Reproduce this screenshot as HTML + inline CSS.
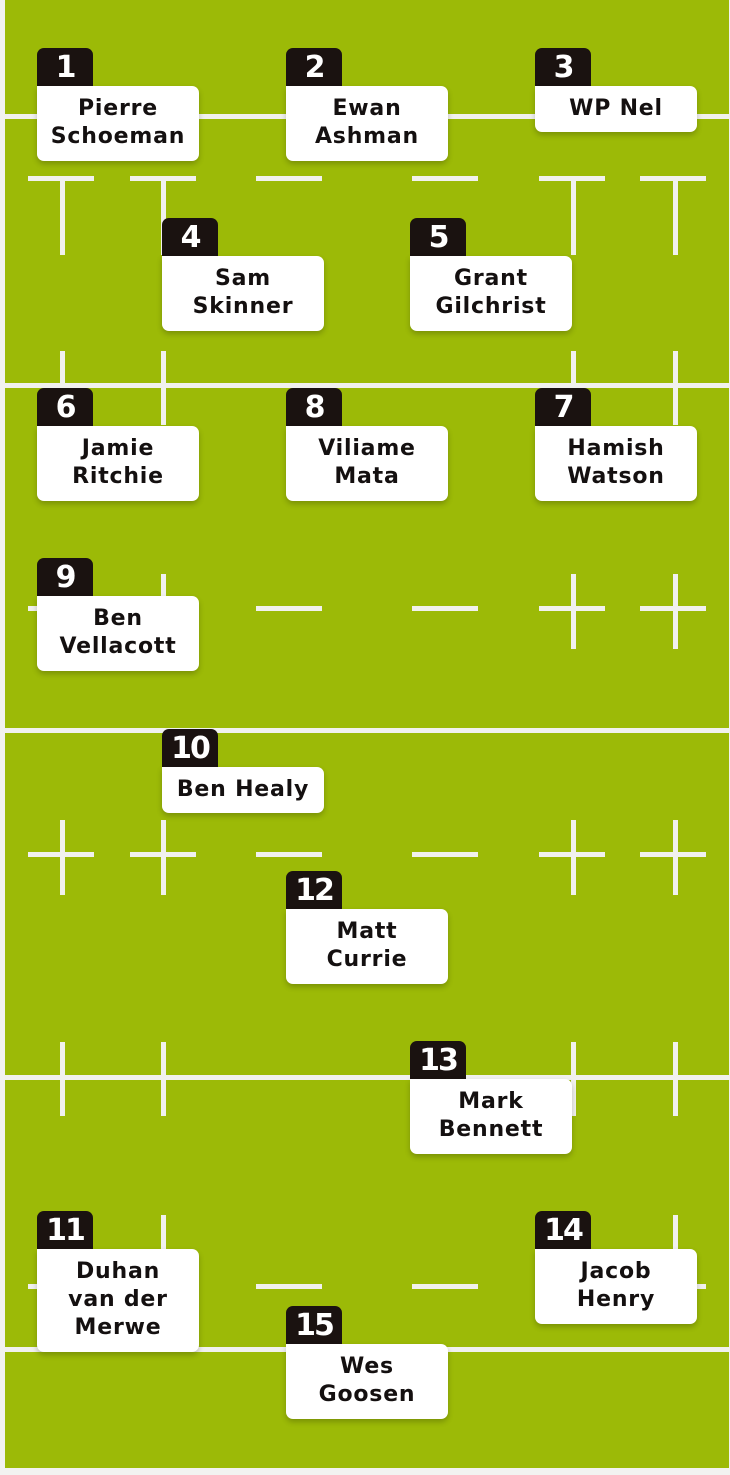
<!DOCTYPE html>
<html><head><meta charset="utf-8"><style>
*{margin:0;padding:0;box-sizing:border-box}
body{width:730px;height:1475px;background:#f2f2f0;position:relative;overflow:hidden;font-family:"DejaVu Sans","Liberation Sans",sans-serif}
.field{position:absolute;left:5px;top:0;width:724px;height:1468px;background:#9cba07}
.l{position:absolute;background:#f1f1ee}
.b{position:absolute;width:56px;height:40px;background:#1a1210;color:#fff;border-radius:7px 7px 0 0;font-weight:bold;font-size:30px;text-align:center;line-height:40px;letter-spacing:-2px}
.c{position:absolute;width:162px;background:#fff;border-radius:7px;border-top-left-radius:0;box-shadow:0 3px 6px rgba(0,0,0,.22);font-weight:bold;font-size:22px;line-height:28px;letter-spacing:0.8px;color:#141010;text-align:center;padding-top:9px}
</style></head><body>
<div class="field"></div>
<div class="l" style="left:5px;top:114px;width:724px;height:5px"></div>
<div class="l" style="left:5px;top:383px;width:724px;height:5px"></div>
<div class="l" style="left:5px;top:728px;width:724px;height:5px"></div>
<div class="l" style="left:5px;top:1075px;width:724px;height:5px"></div>
<div class="l" style="left:5px;top:1347px;width:724px;height:5px"></div>
<div class="l" style="left:28px;top:176px;width:66px;height:5px"></div>
<div class="l" style="left:130px;top:176px;width:66px;height:5px"></div>
<div class="l" style="left:256px;top:176px;width:66px;height:5px"></div>
<div class="l" style="left:412px;top:176px;width:66px;height:5px"></div>
<div class="l" style="left:539px;top:176px;width:66px;height:5px"></div>
<div class="l" style="left:640px;top:176px;width:66px;height:5px"></div>
<div class="l" style="left:60px;top:176px;width:5px;height:79px"></div>
<div class="l" style="left:161px;top:176px;width:5px;height:79px"></div>
<div class="l" style="left:571px;top:176px;width:5px;height:79px"></div>
<div class="l" style="left:673px;top:176px;width:5px;height:79px"></div>
<div class="l" style="left:60px;top:351px;width:5px;height:74px"></div>
<div class="l" style="left:161px;top:351px;width:5px;height:74px"></div>
<div class="l" style="left:571px;top:351px;width:5px;height:74px"></div>
<div class="l" style="left:673px;top:351px;width:5px;height:74px"></div>
<div class="l" style="left:28px;top:606px;width:66px;height:5px"></div>
<div class="l" style="left:130px;top:606px;width:66px;height:5px"></div>
<div class="l" style="left:256px;top:606px;width:66px;height:5px"></div>
<div class="l" style="left:412px;top:606px;width:66px;height:5px"></div>
<div class="l" style="left:539px;top:606px;width:66px;height:5px"></div>
<div class="l" style="left:640px;top:606px;width:66px;height:5px"></div>
<div class="l" style="left:60px;top:574px;width:5px;height:75px"></div>
<div class="l" style="left:161px;top:574px;width:5px;height:75px"></div>
<div class="l" style="left:571px;top:574px;width:5px;height:75px"></div>
<div class="l" style="left:673px;top:574px;width:5px;height:75px"></div>
<div class="l" style="left:28px;top:852px;width:66px;height:5px"></div>
<div class="l" style="left:130px;top:852px;width:66px;height:5px"></div>
<div class="l" style="left:256px;top:852px;width:66px;height:5px"></div>
<div class="l" style="left:412px;top:852px;width:66px;height:5px"></div>
<div class="l" style="left:539px;top:852px;width:66px;height:5px"></div>
<div class="l" style="left:640px;top:852px;width:66px;height:5px"></div>
<div class="l" style="left:60px;top:820px;width:5px;height:75px"></div>
<div class="l" style="left:161px;top:820px;width:5px;height:75px"></div>
<div class="l" style="left:571px;top:820px;width:5px;height:75px"></div>
<div class="l" style="left:673px;top:820px;width:5px;height:75px"></div>
<div class="l" style="left:60px;top:1042px;width:5px;height:74px"></div>
<div class="l" style="left:161px;top:1042px;width:5px;height:74px"></div>
<div class="l" style="left:571px;top:1042px;width:5px;height:74px"></div>
<div class="l" style="left:673px;top:1042px;width:5px;height:74px"></div>
<div class="l" style="left:28px;top:1284px;width:66px;height:5px"></div>
<div class="l" style="left:130px;top:1284px;width:66px;height:5px"></div>
<div class="l" style="left:256px;top:1284px;width:66px;height:5px"></div>
<div class="l" style="left:412px;top:1284px;width:66px;height:5px"></div>
<div class="l" style="left:539px;top:1284px;width:66px;height:5px"></div>
<div class="l" style="left:640px;top:1284px;width:66px;height:5px"></div>
<div class="l" style="left:60px;top:1215px;width:5px;height:74px"></div>
<div class="l" style="left:161px;top:1215px;width:5px;height:74px"></div>
<div class="l" style="left:571px;top:1215px;width:5px;height:74px"></div>
<div class="l" style="left:673px;top:1215px;width:5px;height:74px"></div>

<div class="b" style="left:37px;top:48px">1</div><div class="c" style="left:37px;top:86px;height:75px">Pierre<br>Schoeman</div>
<div class="b" style="left:286px;top:48px">2</div><div class="c" style="left:286px;top:86px;height:75px">Ewan<br>Ashman</div>
<div class="b" style="left:535px;top:48px">3</div><div class="c" style="left:535px;top:86px;height:46px">WP Nel</div>
<div class="b" style="left:162px;top:218px">4</div><div class="c" style="left:162px;top:256px;height:75px">Sam<br>Skinner</div>
<div class="b" style="left:410px;top:218px">5</div><div class="c" style="left:410px;top:256px;height:75px">Grant<br>Gilchrist</div>
<div class="b" style="left:37px;top:388px">6</div><div class="c" style="left:37px;top:426px;height:75px">Jamie<br>Ritchie</div>
<div class="b" style="left:286px;top:388px">8</div><div class="c" style="left:286px;top:426px;height:75px">Viliame<br>Mata</div>
<div class="b" style="left:535px;top:388px">7</div><div class="c" style="left:535px;top:426px;height:75px">Hamish<br>Watson</div>
<div class="b" style="left:37px;top:558px">9</div><div class="c" style="left:37px;top:596px;height:75px">Ben<br>Vellacott</div>
<div class="b" style="left:162px;top:729px">10</div><div class="c" style="left:162px;top:767px;height:46px">Ben Healy</div>
<div class="b" style="left:286px;top:871px">12</div><div class="c" style="left:286px;top:909px;height:75px">Matt<br>Currie</div>
<div class="b" style="left:410px;top:1041px">13</div><div class="c" style="left:410px;top:1079px;height:75px">Mark<br>Bennett</div>
<div class="b" style="left:37px;top:1211px">11</div><div class="c" style="left:37px;top:1249px;height:103px">Duhan<br>van der<br>Merwe</div>
<div class="b" style="left:535px;top:1211px">14</div><div class="c" style="left:535px;top:1249px;height:75px">Jacob<br>Henry</div>
<div class="b" style="left:286px;top:1306px">15</div><div class="c" style="left:286px;top:1344px;height:75px">Wes<br>Goosen</div>
</body></html>
